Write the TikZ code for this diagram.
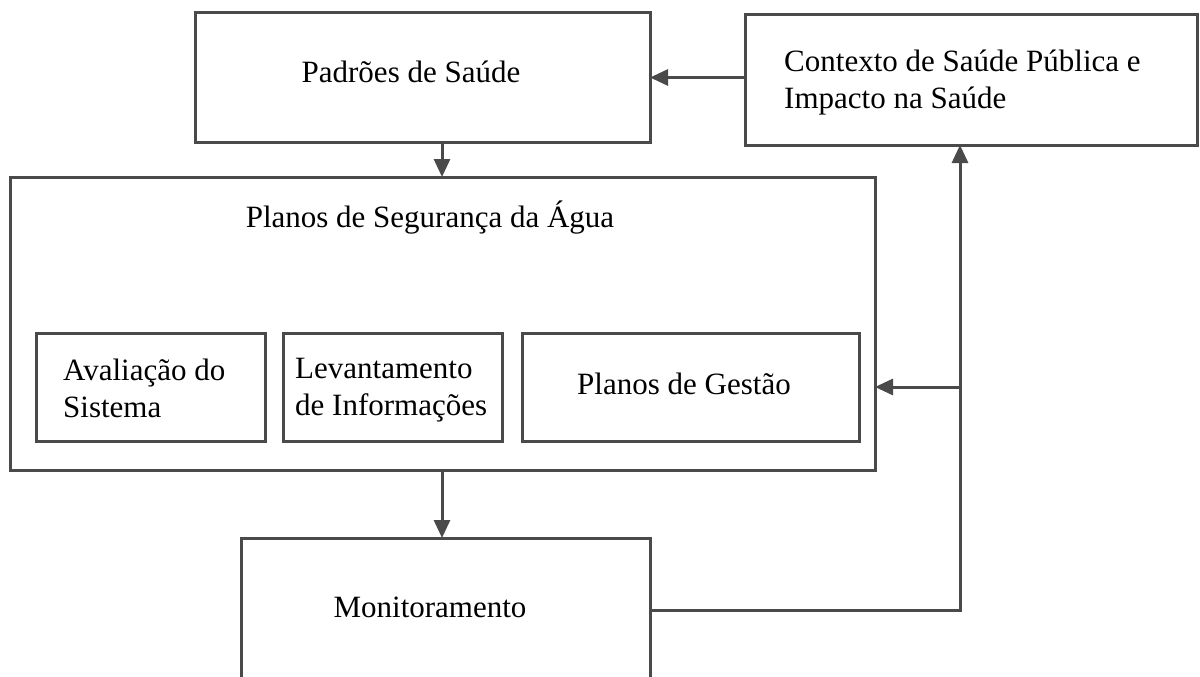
\documentclass[tikz,border=0pt]{standalone}
\usepackage{fontspec}
\setmainfont{Liberation Serif}
\usetikzlibrary{arrows.meta,calc}
\definecolor{linegray}{HTML}{4A4A4A}
\begin{document}
\begin{tikzpicture}[x=1pt,y=-1pt,
  box/.style={draw=linegray,line width=3pt,inner sep=0pt,outer sep=0pt},
  lbl/.style={font=\fontsize{31}{37}\selectfont,inner sep=0pt,align=left},
  arr/.style={draw=linegray,line width=3pt,-{Triangle[length=18pt,width=16pt]}}]
\useasboundingbox (0,0) rectangle (1200,677);
\clip (0,0) rectangle (1200,677);
% boxes
\node[box,minimum width=455pt,minimum height=129pt] (pad) at (422.5,77.5) {};
\node[box,minimum width=452pt,minimum height=130pt] (ctx) at (971,80) {};
\node[box,minimum width=865pt,minimum height=293pt] (psa) at (442.5,323.5) {};
\node[box,minimum width=229pt,minimum height=108pt] (ava) at (150.5,387) {};
\node[box,minimum width=219pt,minimum height=108pt] (lev) at (392.5,387) {};
\node[box,minimum width=337pt,minimum height=108pt] (ges) at (690.5,387) {};
\node[box,minimum width=409pt,minimum height=144pt] (mon) at (445.5,610) {};
% texts
\node[lbl,anchor=base] (padt) at (411,83) {Padrões de Saúde};
\node[lbl,anchor=base west] (ctxt) at (784,108) {Contexto de Saúde Pública e\\Impacto na Saúde};
\node[lbl,anchor=base] (psat) at (430,227) {Planos de Segurança da Água};
\node[lbl,anchor=base west] (avat) at (63,417) {Avaliação do\\Sistema};
\node[lbl,anchor=base west] (levt) at (295,415) {Levantamento\\de Informações};
\node[lbl,anchor=base] (gest) at (684,394) {Planos de Gestão};
\node[lbl,anchor=base] (mont) at (430,617) {Monitoramento};
% connectors
\coordinate (ax) at (442,0);
\coordinate (vx) at (960,0);
\draw[arr] (ctx.west |- pad.east) -- (pad.east);
\draw[arr] (pad.south -| ax) -- (psa.north -| ax);
\draw[arr] (psa.south -| ax) -- (mon.north -| ax);
\draw[arr] (mon.east) -| (ctx.south -| vx);
\draw[arr] (vx |- ges.east) -- (psa.east |- ges.east);
\end{tikzpicture}
\end{document}
